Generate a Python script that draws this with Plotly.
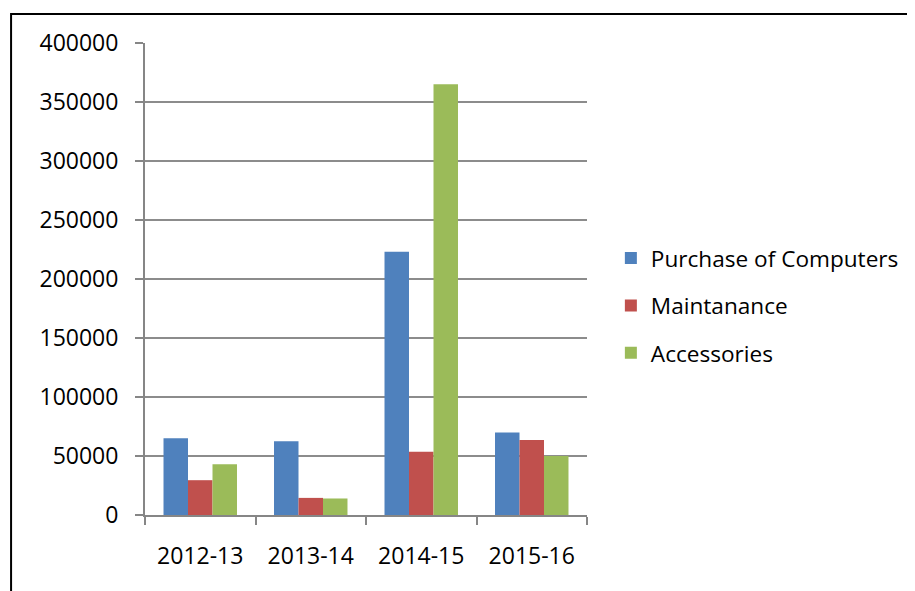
import plotly.graph_objects as go

categories = ["2012-13", "2013-14", "2014-15", "2015-16"]
purchase = [65000, 62500, 223000, 70000]
maintenance = [29500, 14500, 53500, 63500]
accessories = [43000, 14000, 365000, 50000]
series_names = ["Purchase of Computers", "Maintanance", "Accessories"]
colors = ["#4F81BD", "#C0504D", "#9BBB59"]

fig = go.Figure()
for name, vals, col in zip(series_names, [purchase, maintenance, accessories], colors):
    fig.add_trace(go.Bar(x=categories, y=vals, name=name, marker_color=col,
                         marker_line_width=0, legendgroup=name))

FONT = "Open Sans"
fig.update_layout(
    width=915, height=591,
    margin=dict(l=137, r=336, t=35, b=84),
    paper_bgcolor="white", plot_bgcolor="white",
    barmode="group", bargap=0.335, bargroupgap=0,
    font=dict(family=FONT, size=23, color="black"),
    showlegend=True,
    legend=dict(x=1.054, xanchor="left", y=0.443, yanchor="middle",
                font=dict(size=22.6), tracegroupgap=15, traceorder="grouped",
                itemwidth=30, bgcolor="rgba(0,0,0,0)"),
    xaxis=dict(showgrid=False, showline=True, linecolor="#868686", linewidth=2,
               ticks="outside", tickson="boundaries", ticklen=8, tickwidth=2,
               tickcolor="#868686", ticklabelstandoff=19, fixedrange=True),
    yaxis=dict(range=[0, 400000], dtick=50000, showgrid=True, gridcolor="#8C8C8C",
               gridwidth=2, showline=True, linecolor="#868686", linewidth=2,
               ticks="outside", ticklen=8, tickwidth=2, tickcolor="#868686",
               ticklabelstandoff=12, zeroline=False, tickformat="d"),
    shapes=[dict(type="rect", xref="paper", yref="paper", x0=-0.303, x1=2.0,
                 y0=-1.0, y1=1.0614, line=dict(color="black", width=2),
                 fillcolor="rgba(0,0,0,0)", layer="above")],
)

fig.write_html("out.html")
